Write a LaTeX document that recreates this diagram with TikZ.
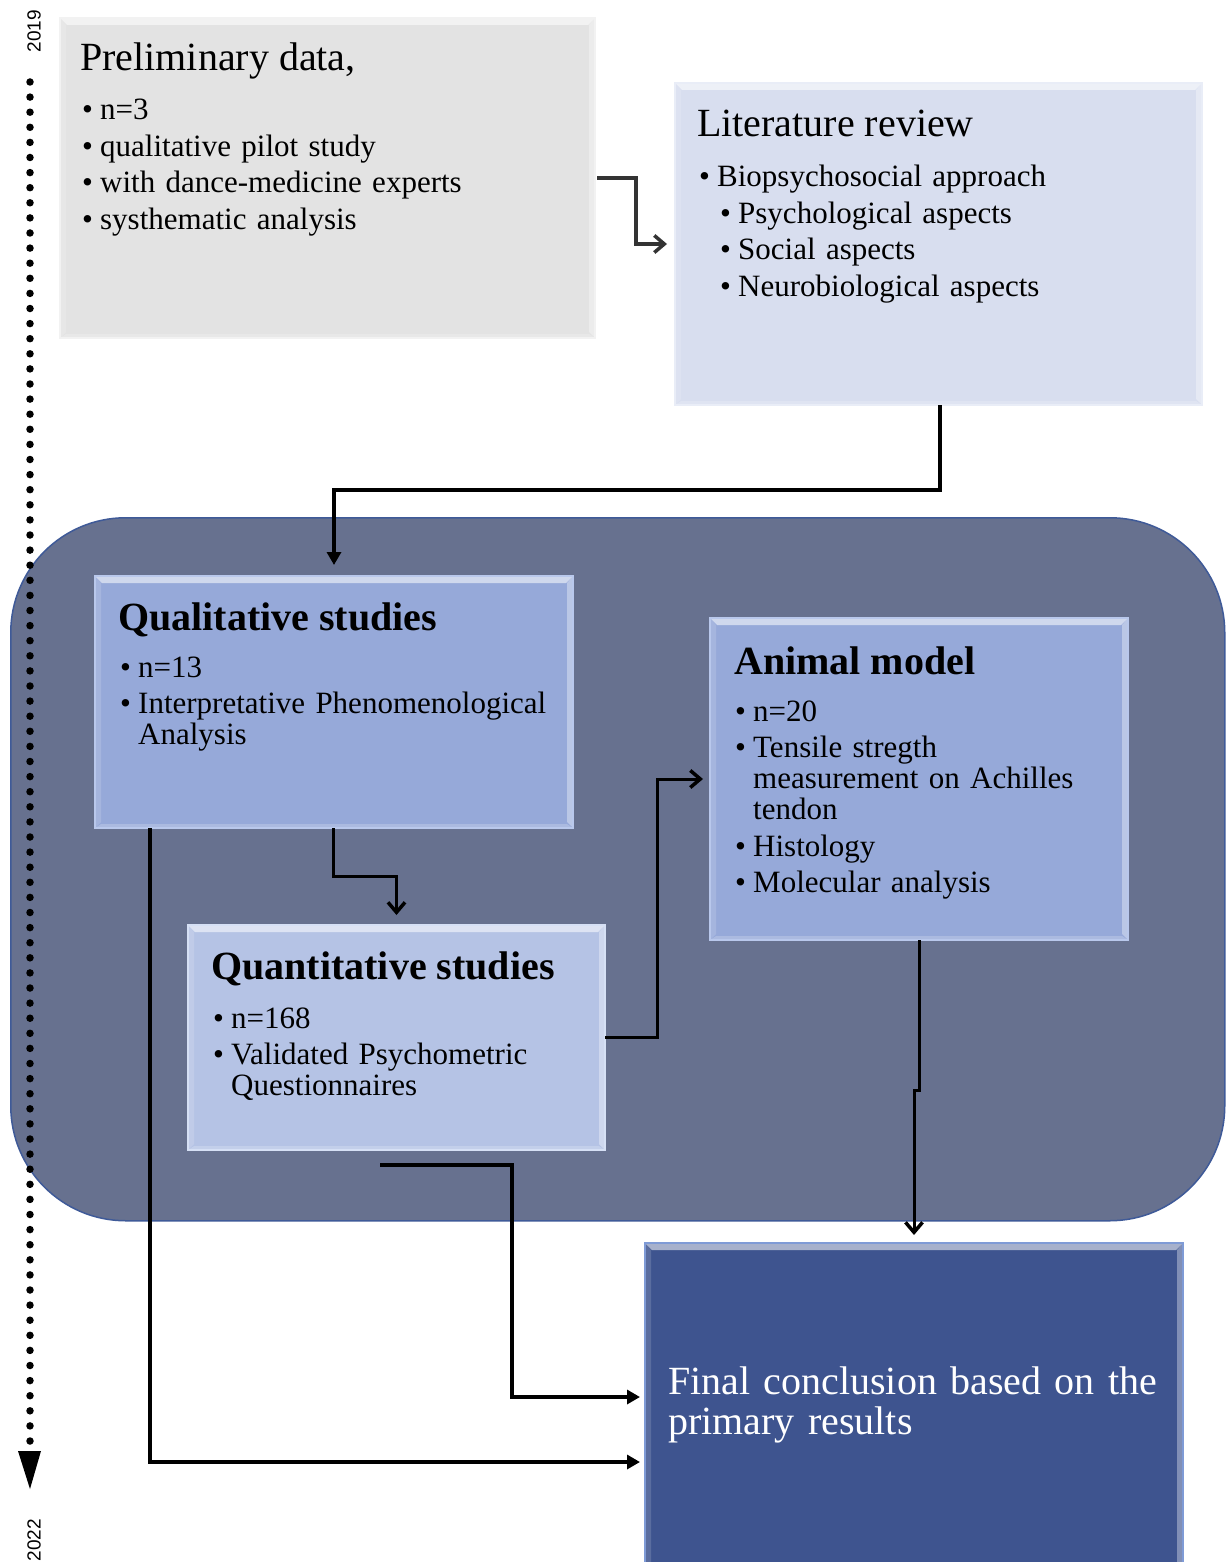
\documentclass[tikz,border=0pt]{standalone}
\usepackage{fontspec}
\setmainfont{Liberation Serif}
\newfontfamily\yearfont{Liberation Sans}
\usetikzlibrary{arrows.meta,calc}

\definecolor{prelimfill}{HTML}{E3E3E3}
\definecolor{prelimedge}{HTML}{F2F2F2}
\definecolor{litfill}{HTML}{D8DEEF}
\definecolor{litedge}{HTML}{E9EDF7}
\definecolor{panelfill}{HTML}{67718F}
\definecolor{paneledge}{HTML}{3F5A98}
\definecolor{qualfill}{HTML}{96A9D9}
\definecolor{qualedge}{HTML}{B9C8EC}
\definecolor{quantfill}{HTML}{B5C3E5}
\definecolor{quantedge}{HTML}{D6E0F5}
\definecolor{finalfill}{HTML}{3E548F}
\definecolor{finaledge}{HTML}{7F9BD6}
\definecolor{darkline}{HTML}{333333}

\newcommand\bitem[1]{\leftskip=0pt\hangindent=18pt\hangafter=1\noindent\makebox[18pt][l]{\textbullet}#1\par}
\newcommand\bsubitem[1]{\leftskip=21pt\hangindent=18pt\hangafter=1\noindent\makebox[18pt][l]{\textbullet}#1\par}
\newcommand\listfont{\fontsize{31}{31}\selectfont\setlength{\parskip}{5.5pt}}

\tikzset{
  bevel/.style={path picture={
    \fill[white,opacity=0.55] (path picture bounding box.north west) -- (path picture bounding box.north east)
      -- ([xshift=-7pt,yshift=-7pt]path picture bounding box.north east) -- ([xshift=7pt,yshift=-7pt]path picture bounding box.north west) -- cycle;
    \fill[white,opacity=0.35] (path picture bounding box.north east) -- (path picture bounding box.south east)
      -- ([xshift=-6pt,yshift=6pt]path picture bounding box.south east) -- ([xshift=-6pt,yshift=-7pt]path picture bounding box.north east) -- cycle;
    \fill[white,opacity=0.15] (path picture bounding box.north west) -- (path picture bounding box.south west)
      -- ([xshift=6pt,yshift=6pt]path picture bounding box.south west) -- ([xshift=6pt,yshift=-7pt]path picture bounding box.north west) -- cycle;
    \fill[white,opacity=0.2] (path picture bounding box.south west) -- (path picture bounding box.south east)
      -- ([xshift=-6pt,yshift=4pt]path picture bounding box.south east) -- ([xshift=6pt,yshift=4pt]path picture bounding box.south west) -- cycle;
  }},
  box/.style={anchor=north west, inner sep=0pt, outer sep=0pt, line width=2pt, bevel},
  heading/.style={anchor=base west, inner sep=0pt, font=\fontsize{40}{40}\selectfont},
  bheading/.style={anchor=base west, inner sep=0pt, font=\fontsize{40}{40}\selectfont\bfseries},
  listtext/.style={anchor=base west, inner sep=0pt, text width=#1, font=\listfont},
  conn/.style={line width=3.5pt, line join=miter},
  openarrow/.style={conn, -{Straight Barb[length=10pt,width=17pt,line width=3.5pt]}},
  filledarrow/.style={conn, -{Triangle[length=13pt,width=14pt]}},
  year/.style={inner sep=0pt, rotate=90, font=\yearfont\fontsize{19}{19}\selectfont}
}

\begin{document}
\begin{tikzpicture}[x=1pt,y=-1pt]
\useasboundingbox (0,0) rectangle (1227,1562);
\fill[white] (0,0) rectangle (1227,1562);
\clip (0,0) rectangle (1227,1562);

% panel
\node[anchor=north west, inner sep=0pt, minimum width=1214pt, minimum height=703pt,
      fill=panelfill, draw=paneledge, line width=1.5pt, rounded corners=115pt] (panel) at (10,517) {};

% timeline
\coordinate (tstart) at (30,82);
\coordinate (tend) at (30,1442);
\draw[line width=7.5pt, line cap=round, dash pattern=on 0pt off 15.1pt] (tstart) -- (tend);
\coordinate (tip) at (30,1489);
\fill ($(tip)+(-12,-38)$) -- ($(tip)+(11,-38)$) -- (tip) -- cycle;
\node[year] (y2019) at (34,31) {2019};
\node[year] (y2022) at (34,1540) {2022};

% boxes
\node[box, fill=prelimfill, draw=prelimedge, minimum width=535pt, minimum height=320pt] (prelim) at (60,18) {};
\node[box, fill=litfill, draw=litedge, minimum width=527pt, minimum height=322pt] (lit) at (675,83) {};
\node[box, fill=qualfill, draw=qualedge, minimum width=478pt, minimum height=252pt] (qual) at (95,576) {};
\node[box, fill=qualfill, draw=qualedge, minimum width=418pt, minimum height=322pt] (animal) at (710,618) {};
\node[box, fill=quantfill, draw=quantedge, minimum width=417pt, minimum height=225pt] (quant) at (188,925) {};
\node[box, fill=finalfill, draw=finaledge, minimum width=538pt, minimum height=360pt] (final) at (645,1243) {};

% texts
\node[heading] (prelimhead) at (80,71) {Preliminary data,};
\node[listtext=500pt] (prelimlist) at (82,120) {\listfont\bitem{n=3}\bitem{qualitative pilot study}\bitem{with dance-medicine experts}\bitem{systhematic analysis}};

\node[heading] (lithead) at (697,137) {Literature review};
\node[listtext=500pt] (litlist) at (699,187) {\listfont\bitem{Biopsychosocial approach}\bsubitem{Psychological aspects}\bsubitem{Social aspects}\bsubitem{Neurobiological aspects}};

\node[bheading] (qualhead) at (118,630) {Qualitative studies};
\node[listtext=460pt] (quallist) at (120,677) {\listfont\bitem{n=13}\bitem{Interpretative Phenomenological\newline Analysis}};

\node[bheading] (animalhead) at (734,674) {Animal model};
\node[listtext=400pt] (animallist) at (735,721) {\listfont\bitem{n=20}\bitem{Tensile stregth\newline measurement on Achilles\newline tendon}\bitem{Histology}\bitem{Molecular analysis}};

\node[bheading] (quanthead) at (211,979) {Quantitative studies};
\node[listtext=400pt] (quantlist) at (213,1028) {\listfont\bitem{n=168}\bitem{Validated Psychometric\newline Questionnaires}};

\node[anchor=base west, inner sep=0pt, text width=520pt, text=white, font=\fontsize{40}{40}\selectfont] (finaltext) at (668,1394) {\fontsize{40}{40}\selectfont\noindent Final conclusion based on the\newline primary results\par};

% connectors
\draw[openarrow, darkline] ([xshift=2pt]prelim.east) -| ([xshift=-39pt]lit.west) -- ([xshift=-8pt]lit.west);
\draw[filledarrow] ([xshift=1.5pt]lit.south) -- ++(0,85) -| ([yshift=11pt]qual.north);
\draw[openarrow, line width=3pt] ([xshift=-1pt]qual.south) -- ++(0,48) -| ([yshift=10pt]quant.north);
\draw[openarrow, line width=3pt] (quant.east) -| ([xshift=-53pt]animal.west) -- ([xshift=-7pt]animal.west);
\draw[openarrow, line width=3pt] (animal.south) -- ++(0,150) -- ++(-5,0) -- ([yshift=8pt]final.north);
\coordinate (q6) at ($(quant.south)+(-16.5,15)$);
\draw[filledarrow] (q6) -| ($(final.north west)+(-133,154)$) -- ($(final.north west)+(-5,154)$);
\draw[filledarrow] ($(qual.south west)+(55,0)$) |- ($(final.north west)+(-5,219)$);
\end{tikzpicture}
\end{document}
